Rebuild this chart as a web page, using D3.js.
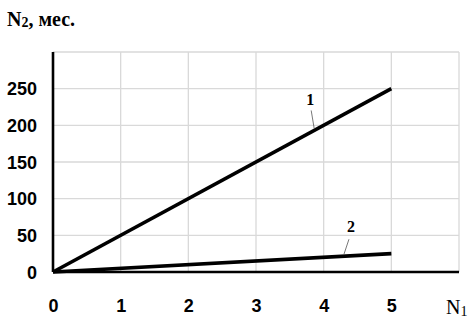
<!DOCTYPE html>
<html>
<head>
<meta charset="utf-8">
<script src="https://cdn.jsdelivr.net/npm/d3@7"></script>
<style>
  body { margin: 0; background: #fff; }
  .tick text { font-family: "Liberation Sans Narrow", "Liberation Sans", Arial, sans-serif; font-weight: bold; font-size: 18px; }
  .grid line { stroke: #d9d9d9; stroke-width: 1.3; }
</style>
</head>
<body>
<div id="chart"></div>
<script>
var xTicks = [0, 1, 2, 3, 4, 5];
var yTicks = [0, 50, 100, 150, 200, 250];
var series1 = [{x: 0, y: 0}, {x: 5, y: 250}];
var series2 = [{x: 0, y: 0}, {x: 5, y: 25}];
var seriesNames = ["1", "2"];
/* label anchor points along each line, in data units */
var labelAt = [3.86, 4.3];

var width = 472, height = 327;
var margin = {left: 53, top: 52, right: 13, bottom: 55};
var w = width - margin.left - margin.right,
    h = height - margin.top - margin.bottom;

var x = d3.scaleLinear().domain([0, 6]).range([0, w]),
    y = d3.scaleLinear().domain([0, 300]).range([h, 0]);

var svg = d3.select("#chart").append("svg")
    .attr("width", width)
    .attr("height", height);

var g = svg.append("g")
    .attr("transform", "translate(" + margin.left + "," + margin.top + ")");

/* gridlines */
g.append("g").attr("class", "grid")
  .selectAll("line").data(d3.range(1, 7)).enter().append("line")
    .attr("x1", function(d) { return x(d); })
    .attr("x2", function(d) { return x(d); })
    .attr("y1", 0).attr("y2", h);
g.append("g").attr("class", "grid")
  .selectAll("line").data(d3.range(50, 301, 50)).enter().append("line")
    .attr("x1", 0).attr("x2", w)
    .attr("y1", function(d) { return y(d); })
    .attr("y2", function(d) { return y(d); });

var xAxis = d3.axisBottom(x).tickValues(xTicks).tickFormat(d3.format("d")).tickSize(0).tickPadding(27),
    yAxis = d3.axisLeft(y).tickValues(yTicks).tickFormat(d3.format("d")).tickSize(0).tickPadding(16);

var gX = g.append("g").attr("transform", "translate(0," + h + ")").call(xAxis);
var gY = g.append("g").call(yAxis);
gX.select(".domain").remove();
gY.select(".domain").remove();
gY.selectAll(".tick text").attr("dy", "0.35em");

/* axis lines */
g.append("line").attr("x1", 0).attr("x2", w).attr("y1", h).attr("y2", h)
  .attr("stroke", "#000").attr("stroke-width", 2.6);
g.append("line").attr("x1", 0).attr("x2", 0).attr("y1", 0).attr("y2", h)
  .attr("stroke", "#000").attr("stroke-width", 2.6);

var line = d3.line()
  .x(function(d) { return x(d.x); })
  .y(function(d) { return y(d.y); });

[series1, series2].forEach(function(s) {
  g.append("path").datum(s)
    .attr("fill", "none")
    .attr("stroke", "#000")
    .attr("stroke-width", 3.6)
    .attr("d", line);
});

/* series labels with leader lines */
var offsets = [{dx: -3, dy: -20, tx: -4, ty: -25}, {dx: 5, dy: -17, tx: 7, ty: -24}];
[series1, series2].forEach(function(s, i) {
  var xv = labelAt[i],
      yv = s[0].y + (s[1].y - s[0].y) * (xv - s[0].x) / (s[1].x - s[0].x);
  var px = x(xv), py = y(yv), o = offsets[i];
  g.append("line")
    .attr("x1", px).attr("y1", py - 2)
    .attr("x2", px + o.dx).attr("y2", py + o.dy)
    .attr("stroke", "#555").attr("stroke-width", 0.8);
  g.append("text")
    .attr("x", px + o.tx).attr("y", py + o.ty)
    .attr("text-anchor", "middle")
    .attr("font-family", "Liberation Serif, Times New Roman, serif")
    .attr("font-weight", "bold")
    .attr("font-size", 16)
    .text(seriesNames[i]);
});

/* axis titles */
var yTitle = svg.append("text")
  .attr("x", 7).attr("y", 26)
  .attr("font-family", "Liberation Serif, Times New Roman, serif")
  .attr("font-weight", "bold")
  .attr("font-size", 20);
yTitle.append("tspan").text("N");
yTitle.append("tspan").attr("font-size", 14).attr("dy", 1).text("2");
yTitle.append("tspan").attr("dy", -1).text(", мес.");

var xTitle = svg.append("text")
  .attr("x", 446).attr("y", 314)
  .attr("font-family", "Liberation Serif, Times New Roman, serif")
  .attr("font-size", 20);
xTitle.append("tspan").text("N");
xTitle.append("tspan").attr("font-size", 14).attr("dy", 2).text("1");
</script>
</body>
</html>
